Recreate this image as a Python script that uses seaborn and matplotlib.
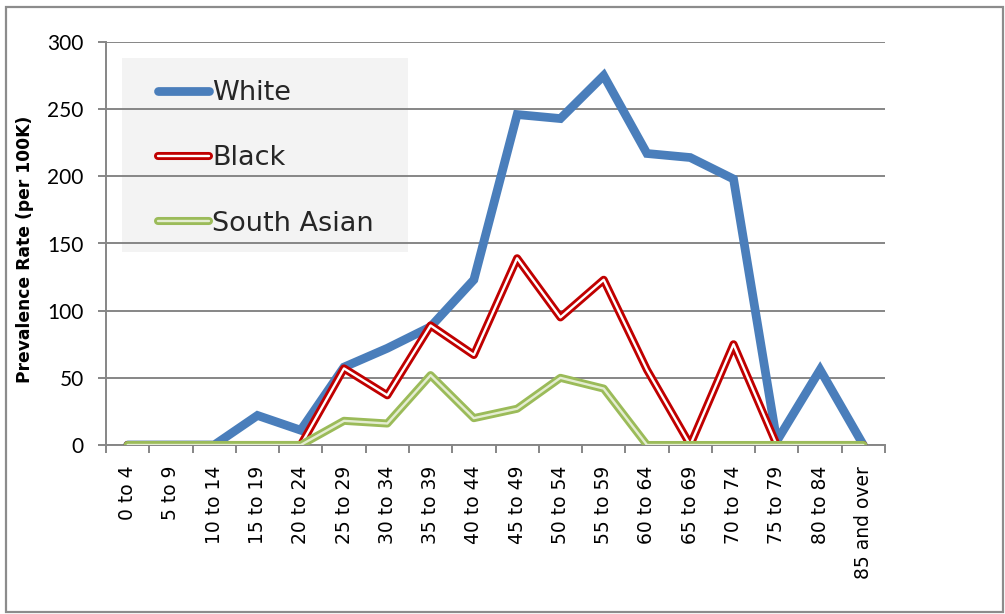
import numpy as np
import pandas as pd
import seaborn as sns
import matplotlib
matplotlib.use("Agg")
import matplotlib.pyplot as plt
from matplotlib import patheffects as pe
from matplotlib.patches import Rectangle

# Age bands shown on the x axis
age_groups = ["0 to 4", "5 to 9", "10 to 14", "15 to 19", "20 to 24", "25 to 29",
              "30 to 34", "35 to 39", "40 to 44", "45 to 49", "50 to 54", "55 to 59",
              "60 to 64", "65 to 69", "70 to 74", "75 to 79", "80 to 84", "85 and over"]

# Prevalence rate per 100K by ethnic group
white = [0, 0, 0, 22, 11, 58, 72, 88, 123, 246, 243, 275, 217, 214, 198, 3, 56, 0]
black = [0, 0, 0, 0, 0, 57, 37, 89, 67, 139, 95, 123, 56, 0, 75, 0, 0, 0]
south_asian = [0, 0, 0, 0, 0, 18, 16, 52, 20, 27, 50, 42, 0, 0, 0, 0, 0, 0]

y_ticks = [0, 50, 100, 150, 200, 250, 300]

sns.set_theme(style="white")
plt.rcParams["font.family"] = ["DejaVu Sans"]

W, H = 1005, 614
fig = plt.figure(figsize=(W / 100, H / 100), dpi=100)
ax = fig.add_axes([106 / W, 1 - 445 / H, 779 / W, 403 / H])

grey = "#868686"

# Legend backdrop panel (behind the grid lines)
ax.add_patch(Rectangle((16 / 779, (445 - 252) / 403), 286 / 779, 194 / 403,
                       transform=ax.transAxes, facecolor="#F3F3F3",
                       edgecolor="none", zorder=0.1))

df_w = pd.DataFrame({"Age": age_groups, "Rate": white})
df_b = pd.DataFrame({"Age": age_groups, "Rate": black})
df_s = pd.DataFrame({"Age": age_groups, "Rate": south_asian})

sns.lineplot(data=df_w, x="Age", y="Rate", sort=False, ax=ax, color="#4A7EBB",
             linewidth=6.3, label="White", solid_joinstyle="miter",
             solid_capstyle="round", zorder=3)
sns.lineplot(data=df_b, x="Age", y="Rate", sort=False, ax=ax, color="white",
             linewidth=1.7, label="Black", zorder=4,
             path_effects=[pe.Stroke(linewidth=5.8, foreground="#C00000"), pe.Normal()])
sns.lineplot(data=df_s, x="Age", y="Rate", sort=False, ax=ax, color="#E4EDD2",
             linewidth=1.7, label="South Asian", zorder=5,
             path_effects=[pe.Stroke(linewidth=5.8, foreground="#9BBB59"), pe.Normal()])

ax.set_xlim(-0.5, 17.5)
ax.set_ylim(0, 300)
ax.set_axisbelow(True)
ax.yaxis.grid(True, color=grey, linewidth=1.4)
ax.xaxis.grid(False)

for side in ["top", "right"]:
    ax.spines[side].set_visible(False)
for side in ["left", "bottom"]:
    ax.spines[side].set_color(grey)
    ax.spines[side].set_linewidth(1.4)

ax.set_xticks(range(len(age_groups)))
ax.set_xticklabels(age_groups, rotation=90, fontsize=13.5, color="black")
ax.set_xticks(np.arange(-0.5, len(age_groups), 1), minor=True)
ax.tick_params(axis="x", which="major", bottom=True, length=0, pad=15)
ax.tick_params(axis="x", which="minor", bottom=True, length=6, width=1.4,
               color=grey, direction="out")

ax.set_yticks(y_ticks)
ax.set_yticklabels([str(v) for v in y_ticks], fontsize=15, family="Lato", color="black")
ax.tick_params(axis="y", left=True, length=6, width=1.4, color=grey,
               direction="out", pad=10)

ax.set_xlabel("")
ax.set_ylabel("Prevalence Rate (per 100K)", fontsize=12.3, fontweight="bold",
              family="DejaVu Sans", color="black")
ax.yaxis.set_label_coords((34 - 106) / 779, (445 - 249) / 403)

ax.legend(loc="upper left", bbox_to_anchor=((158 - 106) / 779, (445 - 80) / 403),
          borderaxespad=0, borderpad=0, frameon=False, fontsize=19.5,
          handlelength=1.9, handletextpad=0.1, labelspacing=1.45)

# Outer chart border
fig.patches.append(Rectangle((6 / W, 1 - 612 / H), 997 / W, 605 / H,
                             transform=fig.transFigure, fill=False,
                             edgecolor="#8C8C8C", linewidth=1.6))

fig.savefig("out.png", dpi=100)
